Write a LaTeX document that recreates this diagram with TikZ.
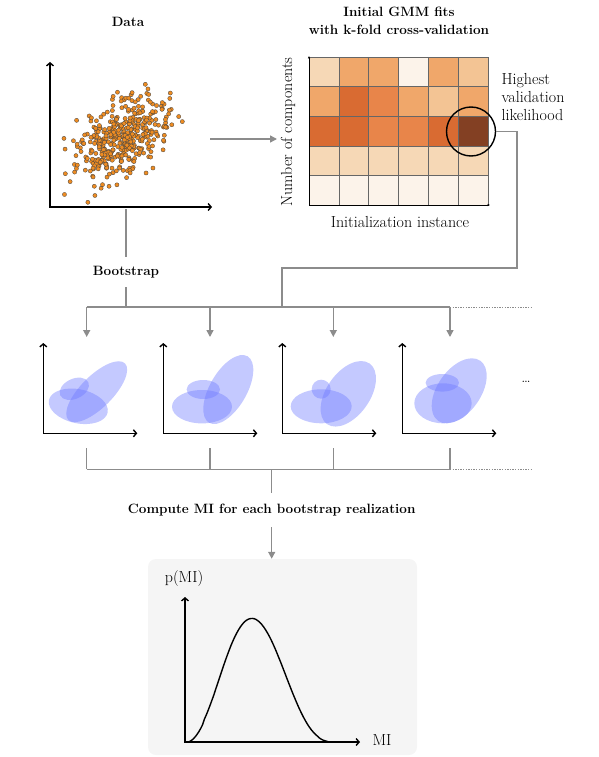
\documentclass[tikz,border=0pt]{standalone}
\usetikzlibrary{arrows.meta,positioning}

\definecolor{connGray}{HTML}{8C8C8C}
\definecolor{dotOrange}{HTML}{EE8C22}
\definecolor{blobBlue}{HTML}{6C78FF}
\definecolor{panelGray}{HTML}{F5F5F5}
\definecolor{hm0}{HTML}{FCF3EA}
\definecolor{hm1}{HTML}{F6D8B6}
\definecolor{hm2}{HTML}{F3C494}
\definecolor{hm3}{HTML}{F0A76A}
\definecolor{hm4}{HTML}{E8854A}
\definecolor{hm5}{HTML}{D96B32}
\definecolor{hm6}{HTML}{834023}

\begin{document}
\begin{tikzpicture}[
      x=1pt, y=-1pt,
      title/.style={font=\fontsize{13.5}{18}\selectfont\bfseries, align=center},
      lbl/.style={font=\fontsize{16}{18}\selectfont, align=left},
      conn/.style={draw=connGray, line width=1.5pt},
      tip/.style={-{Triangle[width=7pt,length=7pt]}},
      dots/.style={draw=connGray, line width=1pt, dash pattern=on 1.3pt off 1.3pt},
      axis/.style={line width=1.4pt, {Straight Barb[length=3pt,width=7pt]}-{Straight Barb[length=3pt,width=7pt]}},
      dot/.style={fill=dotOrange, draw=black!75, line width=0.3pt},
      blob/.style={fill=blobBlue, fill opacity=0.4},
      cell/.style={draw=black!60, line width=0.6pt},
      panel/.style={rectangle, fill=panelGray, rounded corners=8pt, minimum width=269pt, minimum height=196pt}
    ]
    \useasboundingbox (0,0) rectangle (598,757);

    % data scatter
    \node[title] (datatitle) at (128,22) {Data};
    \draw[axis] (50,62) |- (212,207);
    \pgfmathsetseed{4711}
    \foreach \i in {1,...,420}{
      \pgfmathsetmacro{\ga}{rand+rand+rand}
      \pgfmathsetmacro{\gb}{rand+rand+rand}
      \filldraw[dot] ({124+23*\ga},{137-21*(0.5*\ga+0.87*\gb)}) circle (2.1pt);
    }
    \coordinate (dright) at (210,139);
    \coordinate (dsrc) at (126,209);

    % heatmap of initial fits
    \node[title] (gmmtitle) at (399,21) {Initial GMM fits\\with k-fold cross-validation};
    \foreach \row [count=\r from 0] in {{1,3,3,0,3,2},{3,5,4,3,2,3},{5,5,4,4,5,6},{1,1,1,1,1,1},{0,0,0,0,0,0}}{
      \foreach \lv [count=\c from 0] in \row {
        \fill[hm\lv] ({309+\c*29.83},{57+\r*29.6}) rectangle ++(29.83,29.6);
      }
    }
    \foreach \c in {1,...,5} \draw[cell] ({309+\c*29.83},57) -- ++(0,148);
    \foreach \r in {1,...,4} \draw[cell] (309,{57+\r*29.6}) -- ++(179,0);
    \draw[cell] (309,57) rectangle (488,205);
    \draw[line width=1pt, {Latex[length=2.5pt,width=2.5pt]}-{Latex[length=2.5pt,width=2.5pt]}] (309,56) |- (490,205);
    \node[lbl, rotate=90] (ncomp) at (288,132) {Number of components};
    \node[lbl] (ninit) at (400,222) {Initialization instance};
    \node[draw, circle, line width=1.4pt, minimum size=49pt, inner sep=0pt] (hl) at (471,131.5) {};
    \node[lbl, anchor=west] (highest) at (498,97) {Highest\\validation\\likelihood};

    \draw[conn, tip] (dright) -- (277,139);

    % bootstrap branches
    \node[title, minimum height=30pt] (boot) at (126,272) {Bootstrap};
    \coordinate (bsplit) at (126,307);
    \coordinate (split) at (282,307);
    \draw[conn] (dsrc) -- (boot);
    \draw[conn] (boot) -- (bsplit);
    \draw[conn] (hl.east) -| (517,268) -| (split);
    \draw[conn] (86.7,307) -- (450,307);
    \draw[dots] (450,307) -- (531,307);
    \foreach \ax in {86.7,210,333.3,450}{
      \draw[conn, tip] (\ax,307) -- (\ax,337);
      \draw[conn] (\ax,448) -- (\ax,469.3);
    }

    % bootstrap realizations
    \foreach \px in {43.3,163.3,282.3,402.3}
      \draw[axis] (\px,343) |- ({\px+94},433.3);
    \fill[blob, rotate around={45:(96.7,391.7)}] (96.7,391.7) ellipse (40pt and 16pt);
    \fill[blob, rotate around={-12:(78.3,406.3)}] (78.3,406.3) ellipse (30pt and 17pt);
    \fill[blob, rotate around={25:(74.3,388.8)}] (74.3,388.8) ellipse (15.5pt and 10pt);
    \fill[blob, rotate around={60:(228.3,389.5)}] (228.3,389.5) ellipse (38.4pt and 18.5pt);
    \fill[blob] (202,406.7) ellipse (30pt and 16.7pt);
    \fill[blob] (203.3,389.5) ellipse (16.7pt and 9.5pt);
    \fill[blob, rotate around={55:(348.3,393.8)}] (348.3,393.8) ellipse (37pt and 21.7pt);
    \fill[blob] (321.2,406.3) ellipse (30.5pt and 17pt);
    \fill[blob] (321.2,389.2) ellipse (9.5pt and 9.5pt);
    \fill[blob, rotate around={55:(459.2,390.8)}] (459.2,390.8) ellipse (36.7pt and 21.6pt);
    \fill[blob] (443,403.3) ellipse (28.7pt and 20pt);
    \fill[blob] (442.3,382.8) ellipse (16.7pt and 8.8pt);
    \node[lbl] (more) at (526,382) {\dots};

    % collecting the realizations
    \draw[conn] (86.7,469.3) -- (450,469.3);
    \draw[dots] (450,469.3) -- (531,469.3);
    \coordinate (cjoin) at (271.7,469.3);
    \node[title, minimum height=34pt] (compute) at (271.7,510) {Compute MI for each bootstrap realization};
    \draw[conn] (cjoin) -- (compute);

    % distribution of MI
    \node[panel] (mipanel) at (282.5,657) {};
    \draw[conn, tip] (compute.south) -- (compute.south |- mipanel.north);
    \draw[axis] (185,597) |- (360,742);
    \node[lbl] (pmi) at (184,579) {p(MI)};
    \node[lbl] (milbl) at (382,740) {MI};
    \draw[line width=1.4pt] (185,742) -- plot[domain=0.002:0.998, samples=80, smooth] ({185+151.7*\x},{742-7085*(\x^2.6)*((1-\x)^3.3)}) -- (336.7,742);

  \end{tikzpicture}
\end{document}
